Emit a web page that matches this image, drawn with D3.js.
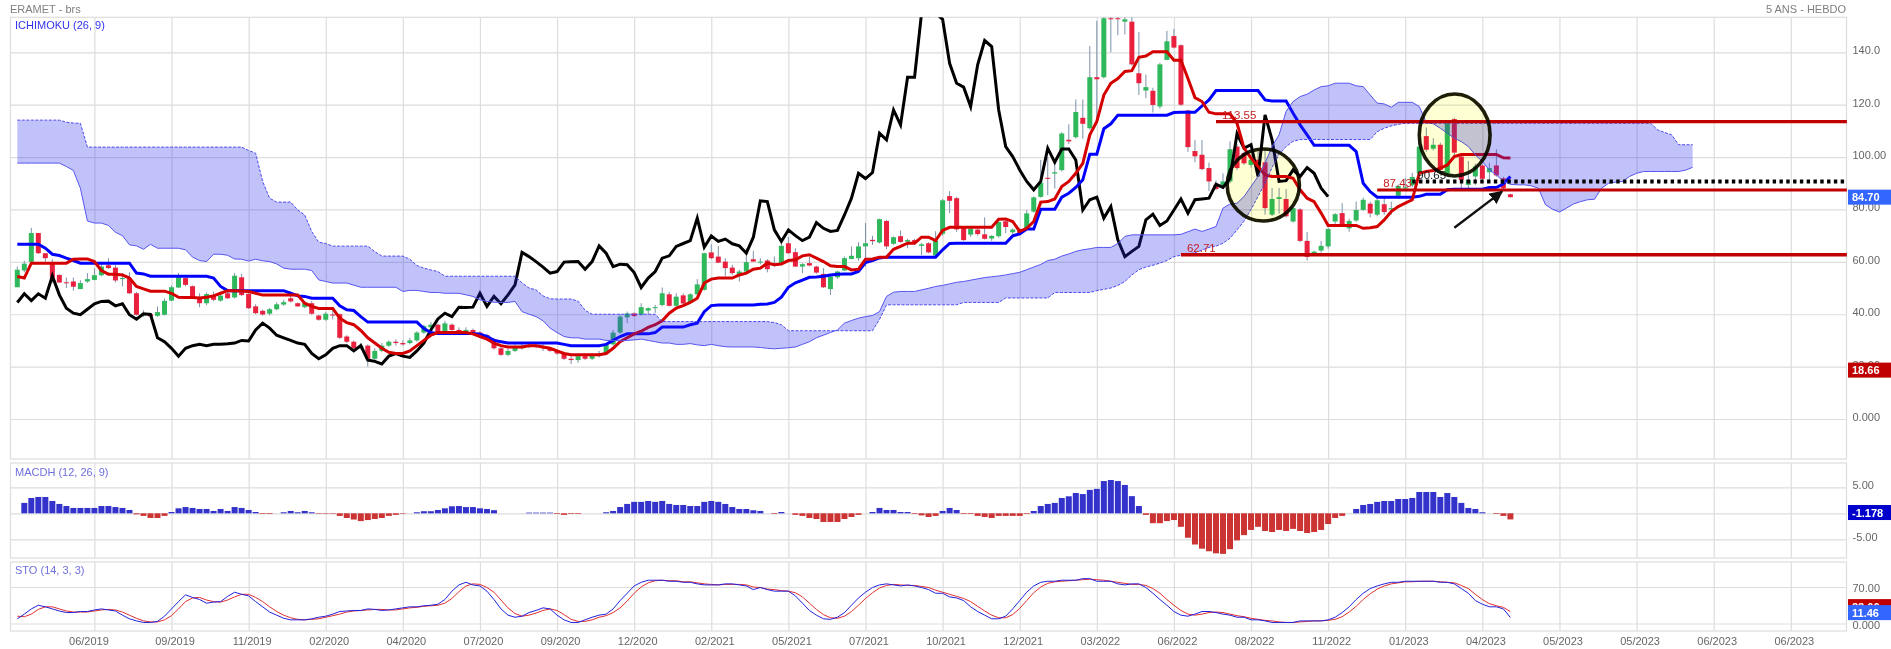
<!DOCTYPE html>
<html>
<head>
<meta charset="utf-8">
<script src="https://cdn.jsdelivr.net/npm/d3@7"></script>
<style>
  html, body { margin: 0; padding: 0; background: #fff; }
  svg { display: block; font-family: "Liberation Sans", Arial, sans-serif; }
  .axis text { fill: #666; font-size: 11px; }
  .axis path, .axis line { display: none; }
  .grid path { display: none; }
  .grid line { stroke: #ddd; stroke-width: 1.2; }
</style>
</head>
<body>
<div id="chart"></div>
<script>
// weekly bars, one entry per candle
const opens = [50.3,56.7,60,71,63.3,59.6,55,52.2,52.5,49.6,
  52.5,53.1,54.9,58.7,57.8,53.4,53.4,48,39.5,40,
  39.4,39.8,45.2,50.2,53.8,50.7,46.5,44.2,47.4,45.2,
  48,46.4,54.1,47.8,43,41.3,40.2,41.9,43.7,46.1,
  44.2,42.7,44.2,39.5,37.9,39.9,40,31.5,29.5,27,
  28,23,26,28,29.5,29,29,30,33,35,
  36,33,36,34,33,34,33,32,30.5,27,
  24.5,26,27,28,28,27.5,27,26,25,23,
  22.5,24,23,24,25,28.5,33,38.8,40.3,39.8,
  41.4,42.5,43.5,47.6,43.2,47.2,44.4,47.6,49.3,63.6,
  62,60.1,57.8,55,56.3,61,60.1,60.5,58.5,59.5,
  67.1,63.7,58.2,59.5,58.2,55.4,49.6,54.1,56.7,61.1,
  61.4,65.9,68.4,67.4,75.6,66.9,69.8,67.7,68.3,66.1,
  67.1,62.4,70.7,85.1,84.3,72.9,70.4,72.3,70.5,68.9,
  69.8,75.5,71.3,72,72.6,79.2,84.8,92.1,93.7,95,
  106.6,107.6,115,111,130.5,130.5,153,153,151.7,151.7,
  132,125.4,125.3,119.3,137.1,146.2,142.7,117.8,102.3,100.9,
  95.8,89.4,88.8,90.7,104,101.5,97,99,98,78,
  84,84,75.4,80,68,63,64.3,65.9,75.4,78.6,
  72.8,75.8,79.8,82.2,78,82,80,85.2,88,89.2,
  93.8,108,103.2,104.7,93.8,114.5,100.2,89.4,92.6,96.8,
  94.2,96.8,91.9,85.8];
const closes = [57,59.3,71,63.3,61.4,54,52.1,51.9,50.5,51.9,
  53.4,54.9,58.2,57.6,52.9,53.8,48,39.8,40.3,39.2,
  40.8,45.1,50.3,54.1,51.2,46.1,44.2,47.7,45.5,47.1,
  46.1,54.7,47.3,42.3,40.4,39.9,41.9,43.8,44.6,44.9,
  43,44.2,40.2,37.9,40.2,39.5,31,29.5,27,28,
  23,26,28,29.5,29,28.5,30,33,35.5,36,
  33,36.5,34,33,34,33,32,30.5,27,24.5,
  26,27.5,28,28.2,27.5,27,26,25,23,22.5,
  24,23,24.5,25,28.5,33,39.1,40.3,39.3,42.7,
  42.3,42.7,48,43.2,46.7,44.1,47.6,51.4,63.3,61.4,
  59.7,57.6,55.7,56.3,59.9,60.1,60.1,57.2,59,66.1,
  63.3,58.2,59.1,58.6,55.9,50.3,54.4,56.3,61.4,62.3,
  65.9,67.1,67.9,76.3,65.9,69.4,67.6,68.3,67.3,66.7,
  63.6,68.1,83.5,83.3,72.4,68.3,72.7,70.6,68.8,69.9,
  75.2,73.3,72.3,70.5,78.5,84.6,90.2,91.7,94.2,109,
  106,117.2,112.7,130.5,129.7,153,152.6,152.9,152.6,135.4,
  128.2,126.7,119.9,135.4,144.2,141.8,120,103.8,100.3,95.4,
  90.7,87.8,90.7,103,95.8,97.6,99,97,80.5,84,
  84.7,77.4,80.5,68,61.9,63.9,66.1,72.5,78.2,74,
  75.6,79.8,83.7,78.5,83.5,79,80.5,89,88.5,92.4,
  104,102.8,104.7,95.1,112.9,101.7,91.3,91.3,96.4,91.7,
  95.8,93,88.1,84.7];
const highs = [58.2,60.4,73,71,63.3,61,55.2,54,54,53,
  55.7,57.6,59.5,61.4,58.9,55.7,56,48.5,41.5,40.5,
  43,46,51,55.7,54.2,51,48,48.3,48.6,48,
  48.5,55.7,55.4,48,43.8,41.8,42.4,44.5,45.5,47,
  44.5,45,45,39.8,40.8,41.5,40.3,32,30,29,
  28.5,27,29,30,30.5,30,31,33.5,36,37,
  36.5,37.5,36.5,35,35,34.5,33.5,32.5,31,27.5,
  27,28.5,29,29.5,29,28.5,27.5,26.5,25.5,24,
  24.5,25,25,26,29,34,40,41,40.8,44.2,
  42.6,43.6,50.2,48.5,48,48,48,53.4,63.5,66.7,
  66,61.4,58.9,57,65.2,64.2,61.4,61,62,68,
  69.5,65.2,59.5,61.9,58.5,57.6,55,56.6,62,65.9,
  67.5,74.8,69.9,76.5,76,69.7,72,68.8,68.8,67.2,
  67.5,71.7,84,87,84.8,73.3,73.6,72.8,77,70.2,
  75.8,76.5,72.8,73,79.8,85,98.9,100,97.5,109.5,
  112.5,122,122,142.4,152,153.5,153.5,153.5,153.5,153.5,
  147.8,131.5,126.5,136,148.2,148.9,143,118,106.5,106.5,
  97.9,91,93.8,106,105,102,101,102,102.7,88.2,
  88.2,87.8,81,80.5,71.4,64.2,68,73,78.6,82.4,
  76.5,83,84.5,83,84,85,83,89.5,92,94,
  107,111.3,107.2,105.5,113.5,115,101,98.5,97.5,97.5,
  97.8,103,92.5,86];
const lows = [50.3,56,59.5,63,60,52,52,50,49,49.6,
  52,53,54.5,57.4,52.1,50.6,47.7,39.5,39,38.5,
  39,39.5,45,50,50.7,46,42.7,43.5,45,44.8,
  45.8,46,47,42,40,39.5,39.5,41.5,43.2,44.5,
  42.8,42.3,39.8,37.5,37.5,38,30.5,29,26.5,26.5,
  20,22,25.5,27.5,28,28,28.5,29.5,32.5,34.5,
  32.5,32.5,33.5,32.5,32.5,32,31,30,26.5,24,
  24,25.5,26.5,27,27,26,25.5,24.5,22.5,21,
  21.5,22.5,22.5,23.5,24.5,28,32.5,36.6,39,39.5,
  40,40.5,43,43,43,43.8,44,47,49,61,
  59.5,54.6,55,52.5,56,60,59,56,58,59,
  63,58,55.7,58.3,55.5,50,47.3,53.5,56.5,61,
  60.5,58.2,66.5,67,64.8,66.5,67.3,65.2,66.5,62.5,
  63.3,61.8,70,78.6,71.5,68,69.5,70,68.5,68,
  69.2,71,70.5,70,72,78.8,84.5,85.5,88,94.5,
  105,107,107,110.5,113,130,140,146.5,146.8,135,
  123.7,122.5,117,118.5,137,141.5,119.5,102,98,95,
  87,87.4,88,90,95,97,96,96,78,77.5,
  78.4,77,75,67.5,60.5,62.5,63.5,65,74.5,73.6,
  71.5,75.3,79.5,77,77.5,78,78,84,87,88.5,
  93,102,102.5,94,93,100,88,88,89.4,91,
  90.5,92.5,87.5,84.5];

const kijun = [66.7,66.7,66.7,66.7,65.2,62.9,62.4,61.4,60.5,59.5,
  59.5,59.5,59.5,59.5,59.5,59.5,59.5,55.7,55.4,54.5,
  54.5,54.5,54.5,54.5,54.5,54.5,54.5,54.5,53.8,50.6,
  49,49,49,49,49,49,49,49,49,48,
  47,46.8,46.1,46.1,46.1,46.1,43.2,41.7,41.4,39.1,
  37,37,37,37,37,37,37,37,34.5,33,
  32.6,32.6,32.6,32.6,32.6,32.6,32.4,31.5,30,29.5,
  29,29,29,29,29,29,29,29,28.5,28,
  28,28,28,28,28.5,30,31.5,32.5,32.5,32.5,
  32.5,33,35.1,35.1,35.1,35.1,36,36.6,41,43.3,
  43.5,43.5,43.5,43.5,43.5,43.5,43.8,43.9,44.5,46.5,
  50.3,52,53,54.1,54.2,54.5,55,55.3,55.4,55.4,
  56.3,59.7,60.5,61.5,61.8,61.8,61.8,61.8,61.8,61.8,
  61.8,61.8,64.6,67,67.1,67.1,67.1,67.1,67.1,67.1,
  67.1,67.1,69.9,70.7,72.5,72.5,80.1,80.1,80.1,84.7,
  86.2,88.4,91.3,101.1,101.1,110.8,112.7,116,116,116,
  116,116,116,116,116,117,117.1,117.1,117.1,119.5,
  121.8,125.4,125.4,125.4,125.4,125.4,125.4,125.4,121.8,121.4,
  121.4,121.4,116.7,112.3,108.5,104.5,104.5,104.5,104.5,104.5,
  104.5,102.1,90,86.8,84.7,84.7,84.7,84.7,84.7,84.7,
  85,85.8,85.8,85.8,87.5,87.7,87.7,87.7,87.7,87.7,
  88.4,88.4,89.8,92.6];
const tenkan = [54.4,53.8,59.5,59.5,59.5,59.5,59.5,59.5,61,61.1,
  61.1,60.1,56.7,55.3,55.3,55,53.8,50.6,49.7,48.8,
  48.8,48.8,48,46.5,46.4,46.4,46.2,46.5,47,48,
  49,49,48.9,48.7,48,47.3,47.3,47.3,47.3,47.3,
  47.3,44.2,43,42.2,42.2,42.2,38.5,36.8,36,33.8,
  31,29,27,25.5,25,25,26,28,30,32,
  33,33,33,33,33,32.5,31.5,30.5,29,28,
  27.5,27.5,27.5,28,28,27.5,27,26,25,24.5,
  24.5,24.5,24.5,24.5,25,27,29.5,31,32.5,33.5,
  35,36,37.5,40.4,42.3,43.3,44.5,46.1,51.9,53.4,
  53.8,53.8,53.8,55,55.7,57.2,57.6,59.5,58.9,59.2,
  60.5,60.8,62.3,62.7,61.4,60.1,58.5,58.2,58.2,56.9,
  57.2,61,61.1,61.8,61.8,64.8,65.9,67.1,67.1,69.4,
  69.4,68.1,72,73.2,73.2,73.2,73.2,73.2,73.2,73.2,
  76.3,76.4,75.4,71.6,72.8,75.4,82.8,83,84,88.8,
  90.7,93.8,97.6,108.5,113.6,123.7,128.2,130,132.7,133,
  138.1,138.6,140.2,140.2,140.2,137,137,130,122.7,121.2,
  117.1,116.5,116.5,116.5,112.9,103.4,99.6,96.4,93.2,92.6,
  92.6,92.6,91.9,87.5,84.3,83,78.6,73.9,73.9,73.9,
  73.9,73.9,72.8,73,73.5,76,79.2,81.1,82.4,83.7,
  93.8,94.5,94.9,95.8,97,100.2,101,101,101,101,
  101,101,99.7,99.6];
const chikou = [44.5,47.8,45.2,47.8,46.1,54.6,47.4,42.3,40.4,39.8,
  41.9,44,44.9,45,43.2,44,39.8,38.1,40.2,39.9,
  31,29.5,27,24,27,28,28.5,28,28.5,28.5,
  28.7,29,30,29.8,34,36.6,34.7,32,31,30,
  29,28.5,25,23,24.5,27,28,28,26,28,
  22.5,22,21,24,25,24,23.5,26,29,34,
  38.2,40.4,39.1,42.7,42.6,42.7,48,43,46.8,44,
  47.4,51.2,63.6,62,60.1,58,55.7,56.3,59.9,60,
  60.1,57.2,60.1,66.1,63.3,58.2,59.1,58.9,55.9,50.2,
  53.8,56.3,61.4,62.3,65.9,67,68.1,76.7,65.6,69.9,
  67.8,68.7,66.9,66.1,63.3,69.4,83.3,83,72.2,67.8,
  72.2,70,68.1,69.4,75,72.8,71.6,72,77.9,84.3,
  93.8,91.8,94.1,109.1,106.6,118,112.3,130.5,130.5,155,
  154,155,152.6,135.8,128.2,126.7,119.3,135.2,144.5,142.2,
  118,104,100.2,95.1,90.7,87.5,90.7,103.4,98,103.1,
  103.1,98.9,79.8,83.7,84.7,76.7,81.1,68.4,62,64,
  65.9,76,78.2,73.9,75.6,79.8,84,78.6,83.7,84,
  84.3,89.6,88.4,91.9,108.9,103.4,104.7,92.6,116.1,106.6,
  90.7,91,95.1,92.6,96,93.8,88.1,84.9];
const spanA = [97.7,97.7,97.7,97.7,97.7,97.7,97.7,96.4,94.9,88.1,
  75.6,74.8,74.8,73.9,71.3,70,66.5,66.1,64.8,66.7,
  65.2,65.2,65.2,65.2,64.6,61.8,60.5,60.1,62.9,62.9,
  62.5,61.1,61,60.3,61,60.4,60.1,59.2,57.6,57.2,
  57.2,57.2,56.7,53.1,52.5,51.9,51.9,51.9,51.1,50.3,
  50.3,50.3,50.3,50.3,50.3,48.7,49.1,49.1,48.7,48.3,
  48.3,48,48,48,47.4,46.8,45.5,44.9,44.6,44.5,
  44.5,44.9,41,40,39.1,37.5,34.7,33,31.5,31,
  31,30.5,30.5,30.5,30,30,29.8,30,30.2,30.5,
  30,29.5,29,29,28.5,28.5,28.8,28.3,28,28.5,
  28,27.6,27.5,27.5,27.5,27.5,27.3,27,26.8,27,
  27.2,27.5,28.5,29.5,31,32,33,34,36.6,37.6,
  38.5,39.1,39.5,41,46.8,48.4,48.7,48.7,48.7,49.3,
  49.9,50.6,51,51.6,52.2,52.5,53,53.5,54,54.3,
  54.6,55,55.5,56,57,58,59,60.5,61,62.2,
  63,64,64.6,65,65.5,65.5,65.5,67,69.7,70.3,
  70.3,70.3,70.3,70.3,70.3,70.3,70.5,71.5,72.5,71.6,
  72.5,73.5,80.5,82.1,82.4,84.9,88.8,92.6,97.7,104,
  108.5,117.4,121.2,123.1,124,125.6,126.9,127.2,128.2,128.2,
  128.2,127.2,126.9,123.7,120.6,120.3,119,120.9,120.9,120.9,
  119.3,113.2,112.7,111,109.1,107.2,105.9,104,100.8,98.3,
  95.1,93.2,90.7,89.6,89.4,89.4,89,88.1,81.8,80.1,
  79,80.5,82.1,83,83.7,83.9,88.1,90,90.4,90.7,
  92.6,93.8,94.5,94.5,94.5,94.5,94.5,94.5,95,96.1];
const spanB = [114.1,114.1,114.1,114.1,114.1,114.1,114.1,113.3,113,112.9,
  103.8,103.8,103.8,103.8,103.8,103.8,103.8,103.8,103.8,103.8,
  103.8,103.8,103.8,103.8,103.8,103.8,103.8,103.8,103.8,103.8,
  103.8,103.8,103.8,102.5,101.5,90.7,84.3,82.8,82.8,82.8,
  79.8,77.9,71.6,67.5,67,66,66,66,66,66,
  66,63.9,62.2,62.2,62.2,62.2,61,58.6,57.6,56.9,
  56.3,54.5,54.5,54.5,54.5,54.5,54.5,54.5,54.5,54.5,
  54.5,54.5,52,50,49.3,47,45.9,45.8,45.8,45.8,
  45,41.5,40,40,40,40,40,40,40,40,
  40,40,37.2,37.2,37.2,37.2,37.2,37.2,37.2,37.2,
  37.2,37.2,37.2,37.2,37.2,37.2,37.2,37.2,36.8,36,
  33.7,33.7,33.7,33.7,33.7,33.7,33.7,33.7,33.7,33.7,
  33.7,33.7,33.7,38,43.6,43.6,43.6,43.6,43.6,43.6,
  43.6,43.6,43.6,43.6,43.6,44.5,44.5,44.5,44.5,44.5,
  44.5,46.2,46.2,46.2,46.2,46.2,46.2,46.2,48.3,48.3,
  48.3,48.3,48.3,48.3,49,49.5,50,51,52.5,55,
  57,58,58.7,59.5,60.5,62,62.5,63,63.5,64.5,
  65.5,66,67.1,69,72.2,75.5,80,85,90,96,
  101,104,106,106.7,106.7,106.7,106.7,106.7,106.7,106.7,
  106.7,106.7,106.7,106.7,109.7,111,111.9,112.5,112.9,112.9,
  112.9,112.9,112.9,112.9,112.9,112.9,112.9,112.9,112.9,112.9,
  112.9,112.9,112.9,112.9,112.9,112.9,112.9,112.9,112.9,112.9,
  112.9,112.9,112.9,112.9,112.9,112.9,112.9,112.9,112.9,112.9,
  112.9,112.9,112.9,112.9,110.4,109.4,108.5,104.7,104.7,104.7];

const macdh = [0,2,2.95,3.14,3.14,2.37,1.8,1.4,1.03,1.03,
  1.03,1.03,1.4,1.4,1.2,1.03,.64,-.2,-.5,-.9,
  -.9,-.5,.25,.96,1.2,1.03,.83,.83,.45,.83,
  .45,1.2,1.03,.64,.25,-.13,-.13,0,.2,.45,
  .2,.45,.2,-.1,-.1,-.1,-.5,-.9,-1.2,-1.5,
  -1.3,-1.1,-.9,-.5,-.3,-.1,0,.2,.4,.4,
  .64,.96,1.35,1.4,1.2,1.2,.96,.83,.6,0,
  0,0,0,.13,.13,.13,.13,-.13,-.3,-.13,
  -.13,0,0,0,.2,.45,1.2,1.8,2.2,2.2,
  2.37,2.2,2.37,1.8,1.6,1.6,1.4,1.4,2.2,2.37,
  2.2,1.8,1.2,.83,.83,.58,.45,0,-.13,.25,
  0,-.3,-.5,-.9,-1.1,-1.67,-1.67,-1.67,-1.1,-.7,
  -.3,0,.25,1.03,.64,.64,.25,.25,-.13,-.4,
  -.7,-.5,.45,1.03,.64,-.13,-.13,-.5,-.7,-.9,
  -.5,-.5,-.5,-.5,-.13,.45,1.4,1.8,2,2.95,
  3.27,3.9,3.7,4.5,4.7,6.2,6.4,6.2,5.45,3.3,
  1.4,-.3,-1.9,-1.9,-1.5,-1.3,-2.6,-4.7,-6,-6.8,
  -7.3,-7.7,-7.8,-6.9,-5.2,-4.2,-3.2,-2.6,-3.4,-3.6,
  -3.2,-3.4,-3,-3.4,-3.8,-3.6,-3.2,-2.05,-.9,-.5,
  0,.83,1.6,1.8,2.2,2.37,2.37,2.75,2.75,2.95,
  4.1,4.1,4.1,3.14,3.9,3.14,2,1.03,.83,.2,
  0,-.13,-.5,-1.178];

const stoK = [9,18,28,35,32,28,24,21,21,23,
  23,26,28,26,24,16,9,5,2,2,
  4,14,28,42,55,50,46,39,41,42,
  52,60,56,53,42,32,22,16,10,7,
  7,7,9,12,14,18,23,24,25,25,
  28,27,25,26,28,30,32,32,34,35,
  37,46,62,74,79,74,72,62,46,28,
  16,12,14,21,25,30,28,16,7,2,
  2,7,12,16,18,28,44,58,72,79,
  83,83,83,81,81,79,79,76,74,74,
  74,76,76,74,72,65,69,65,62,62,
  62,53,39,25,16,9,8,12,21,35,
  49,60,69,74,76,74,72,74,72,69,
  65,58,58,51,49,44,32,23,16,9,
  9,14,28,44,60,72,79,81,81,83,
  83,83,86,86,81,81,81,76,74,76,
  76,69,58,46,35,23,16,14,18,23,
  23,21,18,16,12,12,7,7,5,2,
  2,2,2,5,5,5,5,7,12,21,
  32,46,58,67,72,76,79,79,81,81,
  81,81,81,79,79,76,67,58,44,37,
  32,32,28,11.46];
const stoD = [14,13,18,27,32,32,28,24,22,22,
  22,24,26,27,26,22,16,10,5,3,
  3,7,15,28,42,49,50,45,42,41,
  45,51,56,56,50,42,32,23,16,11,
  8,7,8,9,12,15,18,22,24,25,
  26,27,27,26,26,28,30,31,33,34,
  35,39,48,61,72,76,75,69,60,45,
  30,19,14,16,20,25,28,25,17,8,
  4,4,7,12,15,21,30,43,58,70,
  78,82,83,82,82,80,80,78,76,75,
  74,75,75,75,74,70,69,66,65,63,
  62,59,51,39,27,17,11,10,14,23,
  35,48,59,68,73,75,74,73,73,71,
  69,64,60,56,52,48,42,33,24,16,
  11,11,17,29,44,59,70,77,80,81,
  82,83,84,85,84,83,81,79,77,75,
  75,73,67,58,46,35,25,18,16,18,
  21,22,21,18,15,13,10,8,6,5,
  3,2,2,3,4,5,5,6,8,13,
  22,33,46,57,66,72,76,78,80,80,
  81,81,81,80,79,78,73,67,56,46,
  38,34,31,22.66];

// x axis, every 11th bar carries a grid line
const dateTicks = [11,22,33,44,55,66,77,88,99,110,121,132,143,154,165,176,187,198,209,220,231,242,253];
const dateLabels = ["06/2019","09/2019","11/2019","02/2020","04/2020","07/2020","09/2020","12/2020",
  "02/2021","05/2021","07/2021","10/2021","12/2021","03/2022","06/2022","08/2022","11/2022",
  "01/2023","04/2023","05/2023","05/2023","06/2023","06/2023"];

const priceTicks = [140,120,100,80,60,40,20,0];
const priceLabels = ["140.0","120.0","100.00","80.00","60.00","40.00","20.00","0.000"];
const macdTicks = [5,0,-5];
const macdLabels = ["5.00","","-5.00"];
const stoTicks = [70,0];
const stoLabels = ["70.00","0.000"];

// drawn levels: value, first bar
const levelValues = [113.55,62.71,87.43];
const levelStarts = [171,166,194];
const levelTexts = ["113.55","62.71","87.43"];
const dottedValue = 90.65;
const dottedStart = 199;
const lastBar = 261;

// hand drawn ellipses: left bar, right bar, top price, bottom price
const ellipseLeft = [172.6,200];
const ellipseRight = [182.9,210.1];
const ellipseTop = [103.1,124.1];
const ellipseBottom = [75.6,92.8];
// hand drawn arrow: from, to
const arrowBars = [205,211.8];
const arrowPrices = [73,86.8];

const width = 1891, height = 649;
const left = 10.5, right = 1846.5;

const svg = d3.select("#chart").append("svg")
    .attr("width", width)
    .attr("height", height);

const x = d3.scaleLinear().domain([0, 253]).range([17.3, 1790.8]);
const yPrice = d3.scaleLinear().domain([0, 140]).range([419, 52.3]);
const yMacd = d3.scaleLinear().domain([-5, 5]).range([539.3, 487.3]);
const yStoch = d3.scaleLinear().domain([0, 70]).range([623.5, 587]);

const panes = [
  {id: "main", top: 17.3, bottom: 459, y: yPrice, ticks: priceTicks, labels: priceLabels, labelShift: -2},
  {id: "macd", top: 463, bottom: 558, y: yMacd, ticks: macdTicks, labels: macdLabels, labelShift: -2},
  {id: "sto", top: 562, bottom: 631, y: yStoch, ticks: stoTicks, labels: stoLabels, labelShift: 1}
];

const defs = svg.append("defs");
defs.append("marker")
    .attr("id", "arrowHead")
    .attr("viewBox", "0 0 10 10")
    .attr("refX", 9).attr("refY", 5)
    .attr("markerWidth", 5.5).attr("markerHeight", 5.5)
    .attr("markerUnits", "strokeWidth")
    .attr("orient", "auto")
    .append("path")
    .attr("d", "M0,0L10,5L0,10Z")
    .attr("fill", "#111");

panes.forEach(p => {
  defs.append("clipPath").attr("id", "clip-" + p.id)
      .append("rect")
      .attr("x", left).attr("y", p.top)
      .attr("width", right - left).attr("height", p.bottom - p.top);

  // grid
  svg.append("g").attr("class", "grid")
      .attr("transform", `translate(0,${p.bottom})`)
      .call(d3.axisBottom(x).tickValues(dateTicks).tickSize(-(p.bottom - p.top)).tickFormat(""));
  svg.append("g").attr("class", "grid")
      .attr("transform", `translate(${left},0)`)
      .call(d3.axisRight(p.y).tickValues(p.ticks).tickSize(right - left).tickFormat(""));

  svg.append("rect")
      .attr("x", left).attr("y", p.top)
      .attr("width", right - left).attr("height", p.bottom - p.top)
      .attr("fill", "none").attr("stroke", "#ddd").attr("stroke-width", 1.2);

  // right hand labels
  svg.append("g").attr("class", "axis")
      .attr("transform", `translate(${right},${p.labelShift})`)
      .call(d3.axisRight(p.y).tickValues(p.ticks).tickSize(0).tickPadding(6)
        .tickFormat((d, i) => p.labels[i]));
});

const dateAxis = svg.append("g").attr("class", "axis")
    .attr("transform", "translate(3,633)")
    .call(d3.axisBottom(x).tickValues(dateTicks).tickSize(0).tickPadding(4)
      .tickFormat((d, i) => dateLabels[i]));
// the first label sits left of its grid line
dateAxis.selectAll("text").filter((d, i) => i === 0).attr("dx", -9);

// candles
const main = svg.append("g").attr("clip-path", "url(#clip-main)");
const bars = d3.range(opens.length);

main.selectAll(".wick").data(bars).enter().append("line")
    .attr("class", "wick")
    .attr("x1", d => x(d)).attr("x2", d => x(d))
    .attr("y1", d => yPrice(highs[d])).attr("y2", d => yPrice(lows[d]))
    .attr("stroke", "#7d92aa").attr("stroke-width", 1);

main.selectAll(".body").data(bars).enter().append("rect")
    .attr("class", "body")
    .attr("x", d => x(d) - 2.5)
    .attr("width", 5)
    .attr("y", d => yPrice(Math.max(opens[d], closes[d])))
    .attr("height", d => Math.max(1, Math.abs(yPrice(opens[d]) - yPrice(closes[d]))))
    .attr("fill", d => closes[d] >= opens[d] ? "#2fb95c" : "#e9213f");

// ichimoku lines
const priceLine = d3.line().x((d, i) => x(i)).y(d => yPrice(d)).curve(d3.curveLinear);

main.append("path").attr("d", priceLine(chikou))
    .attr("fill", "none").attr("stroke", "#000").attr("stroke-width", 3);
main.append("path").attr("d", priceLine(kijun))
    .attr("fill", "none").attr("stroke", "#0000ff").attr("stroke-width", 3);
main.append("path").attr("d", priceLine(tenkan))
    .attr("fill", "none").attr("stroke", "#d40000").attr("stroke-width", 3);

// cloud
const cloud = d3.area().x((d, i) => x(i)).y0((d, i) => yPrice(spanB[i])).y1(d => yPrice(d));
main.append("path").attr("d", cloud(spanA))
    .attr("fill", "#2d2df0").attr("fill-opacity", 0.29);
main.append("path").attr("d", priceLine(spanA))
    .attr("fill", "none").attr("stroke", "#5555f0").attr("stroke-width", 1);
main.append("path").attr("d", priceLine(spanB))
    .attr("fill", "none").attr("stroke", "#4a4af0").attr("stroke-width", 1)
    .attr("stroke-dasharray", "3 1.5");

// levels
levelValues.forEach((v, i) => {
  svg.append("line")
      .attr("x1", x(levelStarts[i])).attr("x2", x(lastBar))
      .attr("y1", yPrice(v)).attr("y2", yPrice(v))
      .attr("stroke", "#c00000").attr("stroke-width", i === 2 ? 2.8 : 3.4);
  svg.append("text")
      .attr("x", x(levelStarts[i]) + 6).attr("y", yPrice(v) - 2.5)
      .attr("fill", "#c42020").attr("font-size", 11.5)
      .text(levelTexts[i]);
});
svg.append("line")
    .attr("x1", x(dottedStart)).attr("x2", x(lastBar))
    .attr("y1", yPrice(dottedValue)).attr("y2", yPrice(dottedValue))
    .attr("stroke", "#000").attr("stroke-width", 4)
    .attr("stroke-dasharray", "3.4 3.4");
svg.append("text")
    .attr("x", x(dottedStart) + 5).attr("y", yPrice(dottedValue) - 2.5)
    .attr("fill", "#222").attr("font-size", 11.5)
    .text("90.65");

// annotations on top of the picture
ellipseLeft.forEach((l, i) => {
  svg.append("ellipse")
      .attr("cx", (x(l) + x(ellipseRight[i])) / 2)
      .attr("cy", (yPrice(ellipseTop[i]) + yPrice(ellipseBottom[i])) / 2)
      .attr("rx", (x(ellipseRight[i]) - x(l)) / 2)
      .attr("ry", (yPrice(ellipseBottom[i]) - yPrice(ellipseTop[i])) / 2)
      .attr("fill", "#ffffd4")
      .attr("stroke", "#1e1e08").attr("stroke-width", 3.6)
      .style("mix-blend-mode", "multiply");
});
svg.append("line")
    .attr("x1", x(arrowBars[0])).attr("y1", yPrice(arrowPrices[0]))
    .attr("x2", x(arrowBars[1])).attr("y2", yPrice(arrowPrices[1]))
    .attr("stroke", "#111").attr("stroke-width", 2.4)
    .attr("marker-end", "url(#arrowHead)");

// macd histogram
svg.append("g").attr("clip-path", "url(#clip-macd)")
    .selectAll("rect").data(macdh).enter().append("rect")
    .attr("x", (d, i) => x(i) - 3)
    .attr("width", 6)
    .attr("y", d => yMacd(Math.max(0, d)))
    .attr("height", d => Math.abs(yMacd(d) - yMacd(0)))
    .attr("fill", d => d >= 0 ? "#3333cc" : "#cc3333");

// stochastic
const stoLine = d3.line().x((d, i) => x(i)).y(d => yStoch(d));
const stoPane = svg.append("g").attr("clip-path", "url(#clip-sto)");
stoPane.append("path").attr("d", stoLine(stoD))
    .attr("fill", "none").attr("stroke", "#e03030").attr("stroke-width", 1);
stoPane.append("path").attr("d", stoLine(stoK))
    .attr("fill", "none").attr("stroke", "#2222dd").attr("stroke-width", 1);

// captions
const caption = (tx, ty, txt, color, anchor) => svg.append("text")
    .attr("x", tx).attr("y", ty).attr("fill", color)
    .attr("font-size", 11).attr("text-anchor", anchor || "start").text(txt);
caption(10, 13, "ERAMET - brs", "#808080");
caption(1846, 13, "5 ANS - HEBDO", "#808080", "end");
caption(15, 29, "ICHIMOKU (26, 9)", "#3333ee");
caption(15, 476, "MACDH (12, 26, 9)", "#6f6fdd");
caption(15, 574, "STO (14, 3, 3)", "#6f6fdd");

// last value badges, the lower panes stack theirs a little above the value
const badges = [
  {y: yPrice(84.7), text: "84.70", color: "#3366ff"},
  {y: yPrice(18.66), text: "18.66", color: "#c00000"},
  {y: yMacd(0.15), text: "-1.178", color: "#0000cc"},
  {y: yStoch(32.4), text: "22.66", color: "#c00000"},
  {y: yStoch(20.9), text: "11.46", color: "#3366ff"}
];
badges.forEach(b => {
  svg.append("rect")
      .attr("x", 1848).attr("y", b.y - 7.5)
      .attr("width", 43).attr("height", 15)
      .attr("fill", b.color);
  svg.append("text")
      .attr("x", 1852).attr("y", b.y + 4)
      .attr("fill", "#fff").attr("font-size", 11).attr("font-weight", "bold")
      .text(b.text);
});
</script>
</body>
</html>
